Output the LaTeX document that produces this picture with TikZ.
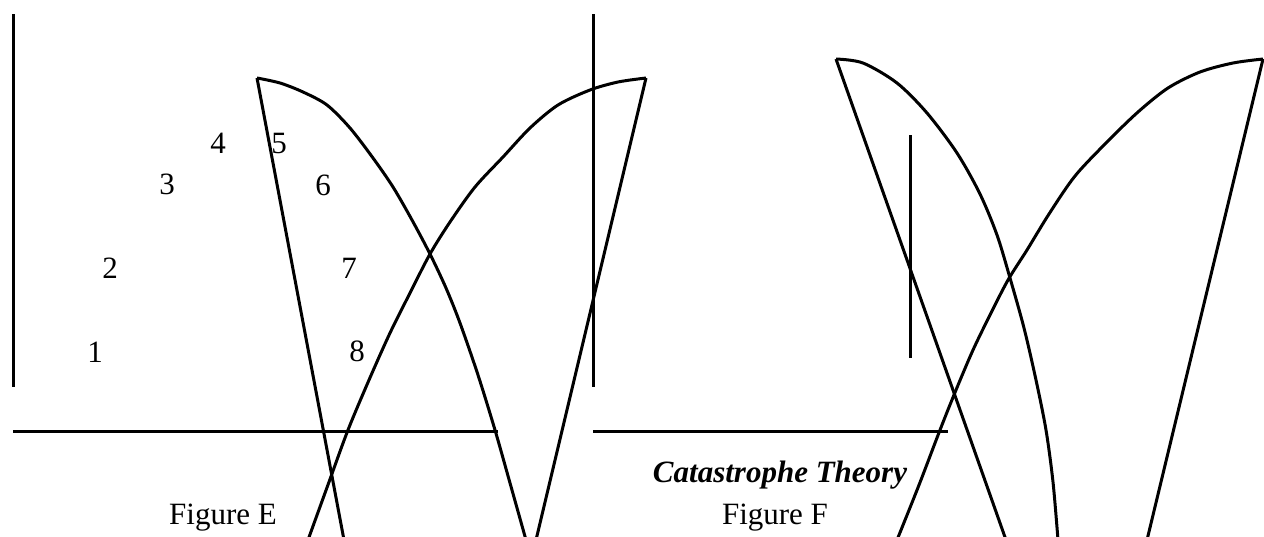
\documentclass[tikz,border=0pt]{standalone}
\usepackage{fontspec}
\setmainfont{Liberation Serif}
\begin{document}
\begin{tikzpicture}[x=1pt,y=-1pt,
  ln/.style={line width=3pt, line join=round},
  crv/.style={ln, smooth, tension=0.5},
  lbl/.style={inner sep=0pt, font=\fontsize{31}{36}\selectfont}]
\useasboundingbox (0,0) rectangle (1264,536);
% ---- Figure E ----
\draw[ln] (13,14) -- (13,387);
\draw[ln] (13,431) -- (498,431);
\node[lbl] (n1) at (95,352) {1};
\node[lbl] (n2) at (110,268) {2};
\node[lbl] (n3) at (167,184) {3};
\node[lbl] (n4) at (218,143) {4};
\node[lbl] (n5) at (279,143) {5};
\node[lbl] (n6) at (323,185) {6};
\node[lbl] (n7) at (349,268) {7};
\node[lbl] (n8) at (357,351) {8};
% left cusp piece
\draw[ln] (344,540) -- (257,78);
\draw[crv] plot coordinates {(257,78) (280,83) (303,92) (327,105) (350,128) (373,158) (393,187) (412,220) (430,254) (446,288) (460,323) (478,375) (495,430) (510,483) (526,540)};
% right cusp piece
\draw[ln] (536,540) -- (646,78);
\draw[crv] plot coordinates {(646,78) (618,82) (590,90) (558,105) (530,128) (503,157) (475,187) (450,222) (430,254) (410,293) (390,333) (369,380) (348,430) (329,482) (308,540)};
\node[lbl] (fe) at (223,518) {Figure E};
% ---- Figure F ----
\draw[ln] (593,14) -- (593,387);
\draw[ln] (593,431) -- (948,431);
\draw[ln] (1006,540) -- (836,59);
\draw[crv] plot coordinates {(836,59) (863,63) (897,83) (927,113) (957,153) (980,194) (997,235) (1010,278) (1024,328) (1036,380) (1046,430) (1053,482) (1058,540)};
\draw[ln] (1147,540) -- (1263,59);
\draw[crv] plot coordinates {(1263,59) (1233,63) (1200,72) (1168,88) (1138,112) (1107,142) (1075,176) (1049,214) (1027,250) (1008,280) (990,315) (973,350) (956,390) (940,430) (919,485) (897,540)};
\draw[ln] (910,135) -- (910,358);
\node[lbl, font=\fontsize{31}{36}\selectfont\bfseries\itshape] (ct) at (780,475) {Catastrophe Theory};
\node[lbl] (ff) at (775,518) {Figure F};
\end{tikzpicture}
\end{document}
